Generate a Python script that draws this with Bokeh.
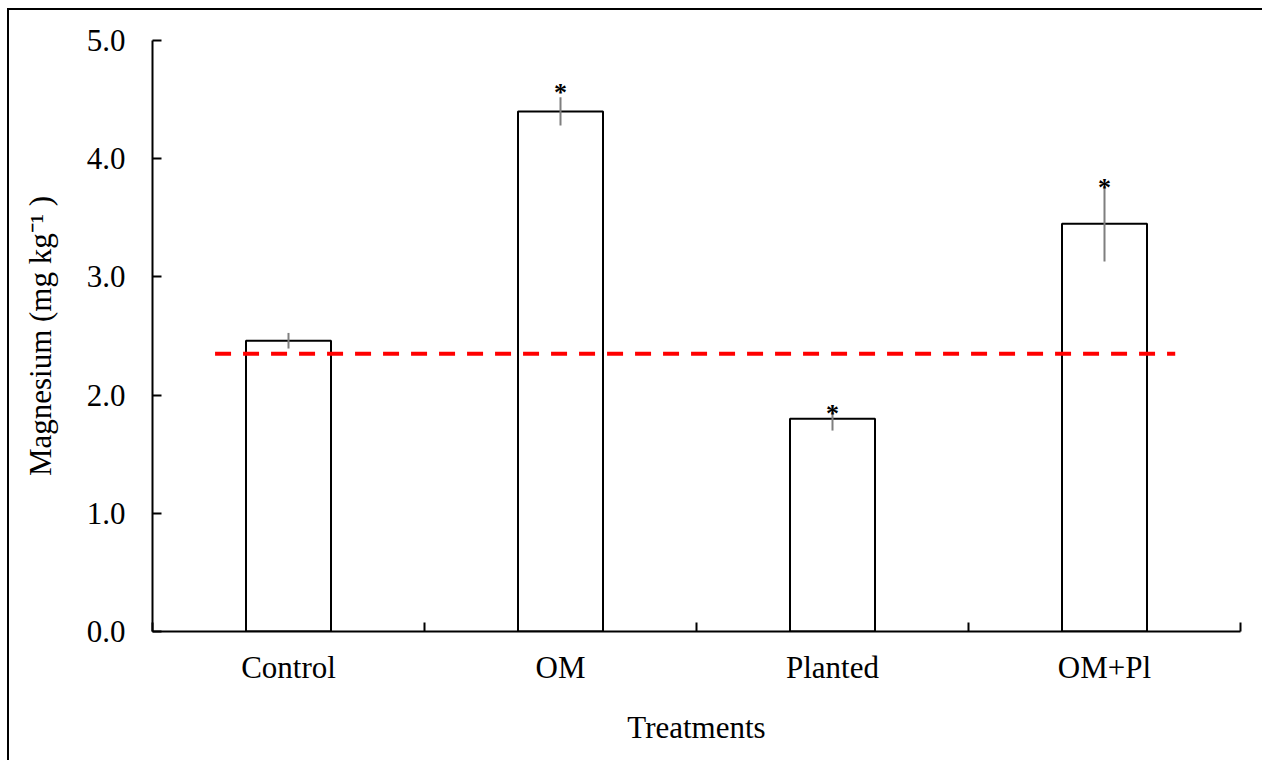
from bokeh.plotting import figure
from bokeh.models import Range1d, FixedTicker, ColumnDataSource
from bokeh.core.properties import value
from bokeh.embed import file_html
from bokeh.resources import INLINE

# ---- data ----
treatments = ["Control", "OM", "Planted", "OM+Pl"]
magnesium = [2.46, 4.40, 1.80, 3.45]
std_err = [0.066, 0.12, 0.10, 0.32]
signif = ["", "*", "*", "*"]
signif_y = [2.60, 4.59, 1.88, 3.79]
threshold = 2.35
threshold_span = [0.23, 3.76]
y_ticks = [0.0, 1.0, 2.0, 3.0, 4.0, 5.0]

FONT = "Liberation Serif"
FS = "31px"

n = len(treatments)
xpos = [i + 0.5 for i in range(n)]
src = ColumnDataSource(dict(
    x=xpos, top=magnesium,
    lo=[m - e for m, e in zip(magnesium, std_err)],
    hi=[m + e for m, e in zip(magnesium, std_err)],
    star=signif, star_y=signif_y,
))

p = figure(width=1255, height=752, x_range=Range1d(0, n), y_range=Range1d(0, 5),
           output_backend="svg", toolbar_location=None,
           min_border_left=143, min_border_right=24, min_border_top=30, min_border_bottom=131)
p.styles = {"margin-left": "7px", "margin-top": "8px",
            "border-left": "2px solid black", "border-top": "2px solid black"}

p.xgrid.visible = False
p.ygrid.visible = False
p.outline_line_color = None
p.background_fill_color = "white"
p.border_fill_color = "white"

p.vbar(x="x", top="top", bottom=0, width=0.3125, source=src,
       fill_color="white", line_color="black", line_width=2)
p.segment(x0="x", x1="x", y0="lo", y1="hi", source=src,
          line_color="#7f7f7f", line_width=2)
p.line(x=threshold_span, y=[threshold, threshold], line_color="#ff0000",
       line_width=4, line_dash="16 12")
p.text(x="x", y="star_y", text="star", source=src, text_align="center",
       text_baseline="middle", y_offset=4, text_font=value(FONT),
       text_font_size="26px", text_font_style="bold", text_color="black")

# axes
p.xaxis.ticker = FixedTicker(ticks=xpos, minor_ticks=list(range(n + 1)))
p.xaxis.major_label_overrides = {x: t for x, t in zip(xpos, treatments)}
p.xaxis.major_tick_in = 0
p.xaxis.major_tick_out = 0
p.xaxis.minor_tick_in = 9
p.xaxis.minor_tick_out = 0
p.xaxis.minor_tick_line_width = 2
p.xaxis.minor_tick_line_color = "black"
p.xaxis.major_label_standoff = 18
p.xaxis.axis_label = "Treatments"
p.xaxis.axis_label_standoff = 22

p.yaxis.ticker = FixedTicker(ticks=y_ticks, minor_ticks=[])
p.yaxis.major_label_overrides = {v: f"{v:.1f}" for v in y_ticks}
p.yaxis.major_tick_in = 9
p.yaxis.major_tick_out = 0
p.yaxis.major_tick_line_width = 2
p.yaxis.major_label_standoff = 27
p.yaxis.axis_label = "Magnesium (mg kg\u207b\u00b9 )"
p.yaxis.axis_label_standoff = 26

for ax in (p.xaxis[0], p.yaxis[0]):
    ax.axis_line_width = 2
    ax.axis_line_color = "black"
    ax.major_tick_line_color = "black"
    ax.major_label_text_font = FONT
    ax.major_label_text_font_size = FS
    ax.major_label_text_color = "black"
    ax.axis_label_text_font = FONT
    ax.axis_label_text_font_size = FS
    ax.axis_label_text_font_style = "normal"
    ax.axis_label_text_color = "black"

open("out.html", "w").write(file_html(p, INLINE))
